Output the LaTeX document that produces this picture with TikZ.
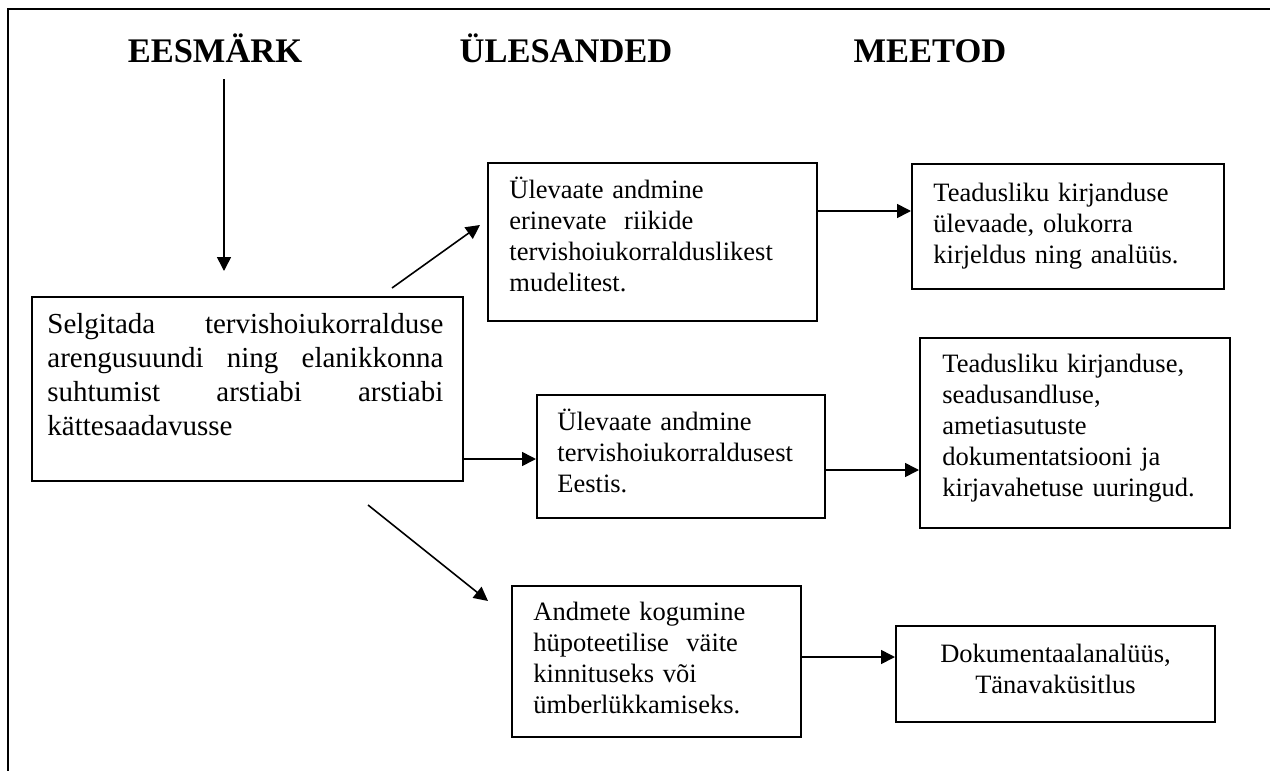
\documentclass[tikz,border=0pt]{standalone}
\usepackage{fontspec}
\setmainfont{Liberation Serif}
\usetikzlibrary{arrows.meta}
\begin{document}
\begin{tikzpicture}[x=0.5pt,y=-0.5pt,
  box/.style={draw, line width=1pt, inner sep=0pt, rectangle},
  txt/.style={anchor=base west, inner sep=0pt, align=left, font=\fontsize{13.25pt}{15.5pt}\selectfont},
  ctxt/.style={anchor=base, inner sep=0pt, align=center, font=\fontsize{13.25pt}{15.5pt}\selectfont},
  ttl/.style={anchor=base, inner sep=0pt, font=\fontsize{17.25pt}{20pt}\selectfont\bfseries},
  arr/.style={line width=0.8pt, -{Triangle[length=7pt,width=7pt]}},
  frame/.style={line width=1pt}]
\useasboundingbox (0,0) rectangle (1270,771);
% outer frame (top and left edges visible)
\draw[frame] (8,771) -- (8,9) -- (1270,9);
% titles
\node[ttl] (t1) at (215,62) {EESMÄRK};
\node[ttl] (t2) at (566,62) {ÜLESANDED};
\node[ttl] (t3) at (930,62) {MEETOD};
% boxes
\node[box, minimum width=215.5pt, minimum height=92pt] (main) at (247.5,389) {};
\node[box, minimum width=164.5pt, minimum height=79pt] (b2) at (652.5,242) {};
\node[box, minimum width=156pt, minimum height=62.5pt] (b3) at (1068,226.5) {};
\node[box, minimum width=155pt, minimum height=95pt] (b4) at (1075,433) {};
\node[box, minimum width=144pt, minimum height=61.5pt] (b5) at (681,456.5) {};
\node[box, minimum width=144.5pt, minimum height=75.5pt] (b6) at (656.5,661.5) {};
\node[box, minimum width=159.5pt, minimum height=48pt] (b7) at (1055.5,674) {};
% texts
\node[anchor=base west, inner sep=0pt, text width=198pt, align=justify,
      font=\fontsize{14.5pt}{17pt}\selectfont] (mt) at (47,333)
  {Selgitada tervishoiukorralduse\linebreak arengusuundi ning elanikkonna\linebreak suhtumist arstiabi arstiabi\linebreak kättesaadavusse};
\node[txt, text width=160pt] (x2) at (509,198)
  {Ülevaate andmine\\ erinevate\ \ riikide\\ tervishoiukorralduslikest\\ mudelitest.};
\node[txt, text width=145pt] (x3) at (933,201)
  {Teadusliku kirjanduse\\ ülevaade, olukorra\\ kirjeldus ning analüüs.};
\node[txt, text width=140pt] (x4) at (942,372)
  {Teadusliku kirjanduse,\\ seadusandluse,\\ ametiasutuste\\ dokumentatsiooni ja\\ kirjavahetuse uuringud.};
\node[txt, text width=130pt] (x5) at (557,430)
  {Ülevaate andmine\\ tervishoiukorraldusest\\ Eestis.};
\node[txt, text width=130pt] (x6) at (533,620)
  {Andmete kogumine\\ hüpoteetilise\ \ väite\\ kinnituseks või\\ ümberlükkamiseks.};
\node[ctxt, text width=150pt] (x7) at (1055.5,662)
  {Dokumentaalanalüüs,\\ Tänavaküsitlus};
% helper coordinates
\coordinate (v1) at (224,79);
\coordinate (v2) at (224,271);
\coordinate (d1s) at (392,288);
\coordinate (d1e) at (480,225);
\coordinate (d2s) at (368,505);
\coordinate (d2e) at (488,601);
\coordinate (y23) at (0,211);
\coordinate (y15) at (0,459);
\coordinate (y54) at (0,470);
\coordinate (y67) at (0,657);
% connectors
\draw[arr] (v1) -- (v2);
\draw[arr] (d1s) -- (d1e);
\draw[arr] (d2s) -- (d2e);
\draw[arr] (b2.east |- y23) -- (b3.west |- y23);
\draw[arr] (main.east |- y15) -- (b5.west |- y15);
\draw[arr] (b5.east |- y54) -- (b4.west |- y54);
\draw[arr] (b6.east |- y67) -- (b7.west |- y67);
\end{tikzpicture}
\end{document}
